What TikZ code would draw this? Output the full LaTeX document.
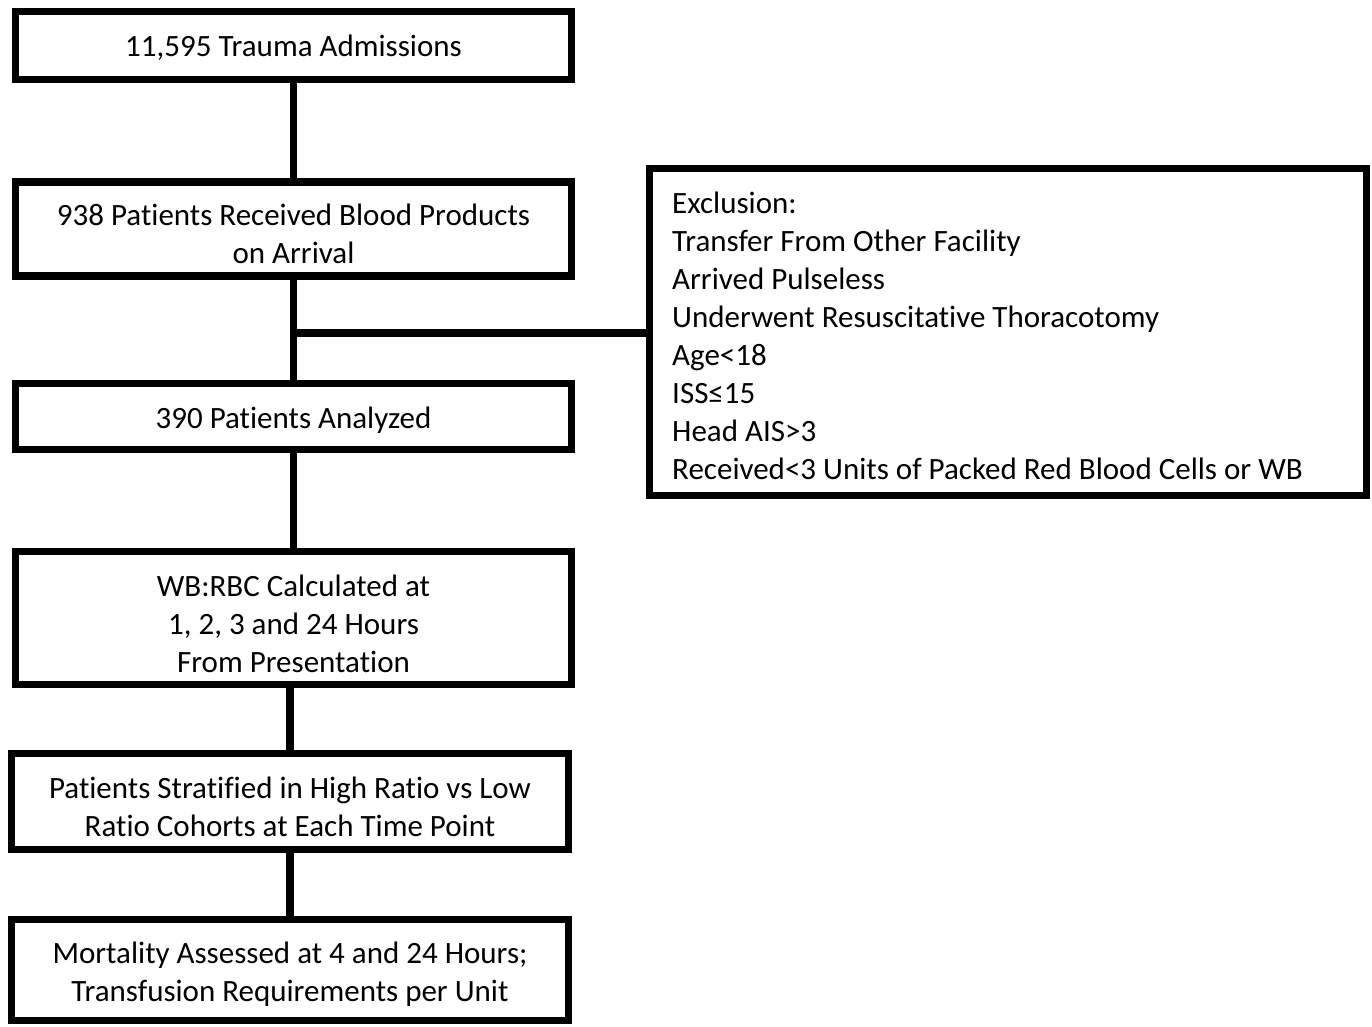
\documentclass[tikz,border=0pt]{standalone}
\usepackage{fontspec}
\setmainfont{Carlito}[Ligatures=NoCommon]
\begin{document}
\begin{tikzpicture}[x=1pt,y=-1pt,
  box/.style={draw=black,line width=7.5pt,rectangle,inner sep=0pt},
  txt/.style={inner sep=0pt,align=center,font=\fontsize{31}{38}\selectfont},
  conn/.style={line width=7.5pt,black}]
\useasboundingbox (0,0) rectangle (1372,1026);
\node[box,minimum width=556pt,minimum height=68pt] (b1) at (293.5,45.5) {};
\node[box,minimum width=556pt,minimum height=94pt] (b2) at (293.5,229) {};
\node[box,minimum width=556pt,minimum height=66pt] (b3) at (293.5,416.5) {};
\node[box,minimum width=556pt,minimum height=133pt] (b4) at (293.5,618) {};
\node[box,minimum width=557pt,minimum height=96pt] (b5) at (290,801.5) {};
\node[box,minimum width=557pt,minimum height=101pt] (b6) at (290,970) {};
\node[box,minimum width=717pt,minimum height=327pt] (ex) at (1008,332) {};
\node[txt] (t1) at (293.5,48) {11,595 Trauma Admissions};
\node[txt] (t2) at (293.5,234) {938 Patients Received Blood Products\\on Arrival};
\node[txt] (t3) at (293.5,420) {390 Patients Analyzed};
\node[txt] (t4) at (293.5,624) {WB:RBC Calculated at\\1, 2, 3 and 24 Hours\\From Presentation};
\node[txt] (t5) at (290,807) {Patients Stratified in High Ratio vs Low\\Ratio Cohorts at Each Time Point};
\node[txt] (t6) at (290,974) {Mortality Assessed at 4 and 24 Hours;\\Transfusion Requirements per Unit};
\node[txt,align=left,anchor=west] (tx) at (672,336)
  {Exclusion:\\Transfer From Other Facility\\Arrived Pulseless\\Underwent Resuscitative Thoracotomy\\Age<18\\ISS≤15\\Head AIS>3\\Received<3 Units of Packed Red Blood Cells or WB};
\coordinate (j) at (294,333);
\draw[conn] (b1.south) -- (b2.north);
\draw[conn] (b2.south) -- (b3.north);
\draw[conn] (j) -- (j -| ex.west);
\draw[conn] (b3.south) -- (b4.north);
\draw[conn] (b4.south -| b5.north) -- (b5.north);
\draw[conn] (b5.south) -- (b6.north);
\end{tikzpicture}
\end{document}
